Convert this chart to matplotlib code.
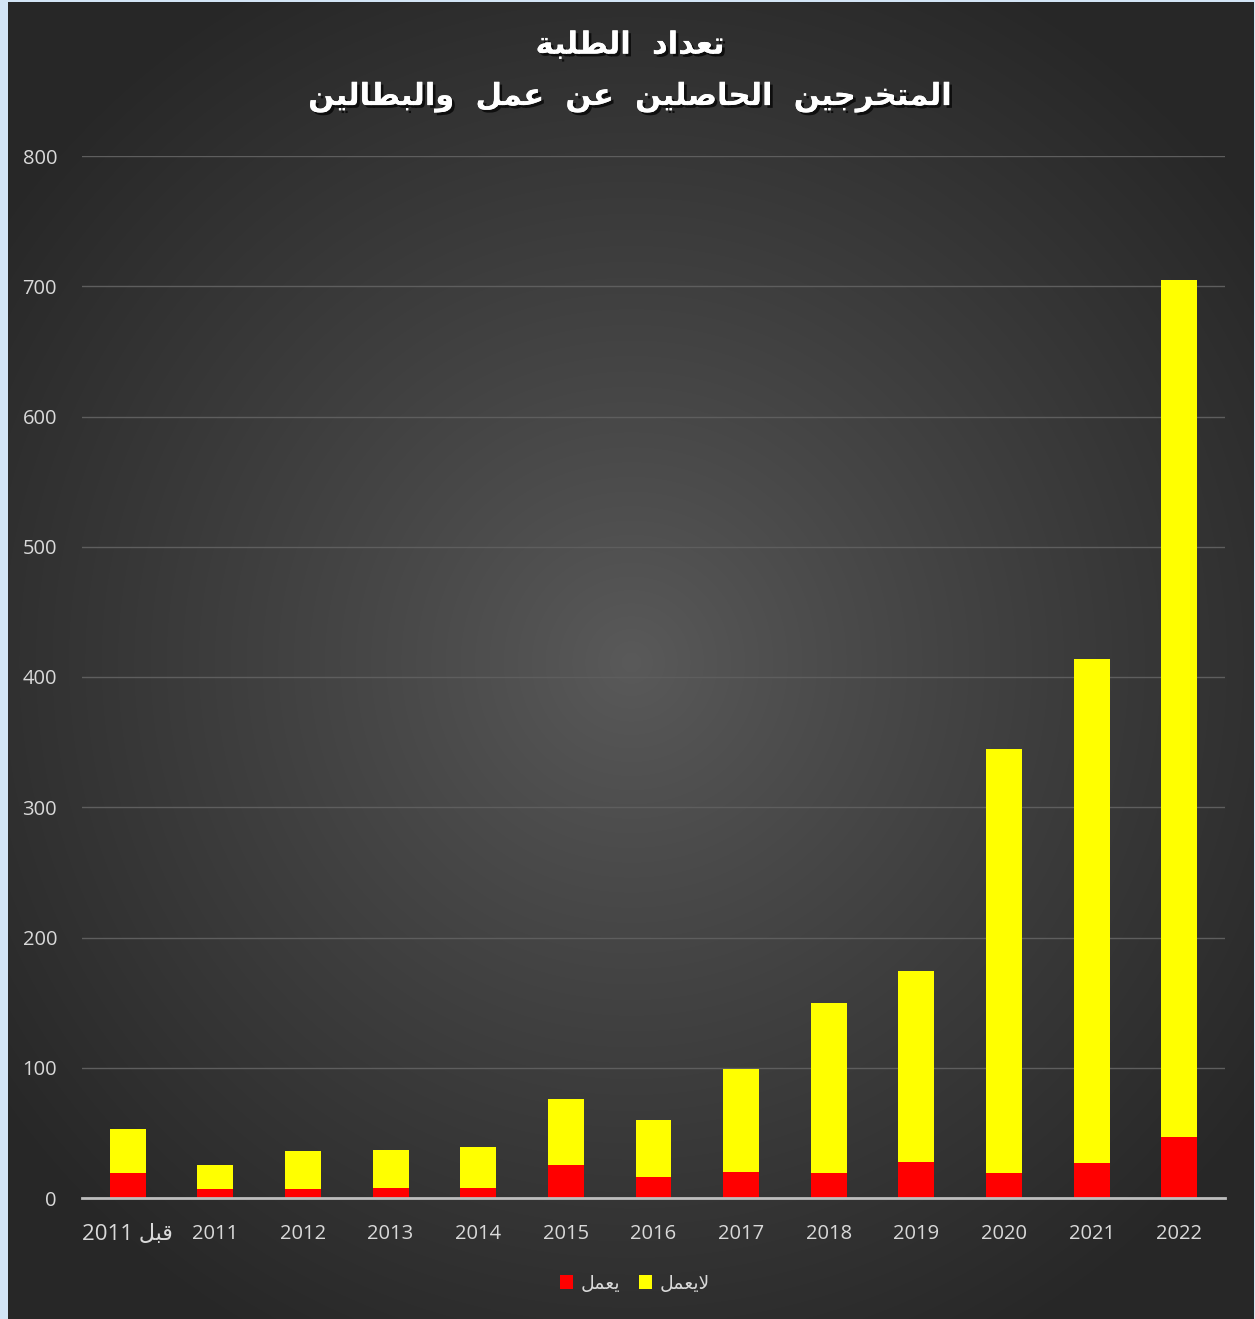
import numpy as np
import matplotlib.pyplot as plt
import matplotlib.patheffects as pe

# data
years = ["2011", "2012", "2013", "2014", "2015", "2016", "2017", "2018", "2019", "2020", "2021", "2022"]
working = [19, 7, 7, 8, 8, 25, 16, 20, 19, 28, 19, 27, 47]          # red, bottom
not_working = [34, 18, 29, 29, 31, 51, 44, 79, 131, 146, 326, 387, 658]  # yellow, on top

# --- tiny arabic shaper (matplotlib draws glyphs without joining / RTL) ---
FORMS = {
    'ا': (0xFE8D, 0xFE8E), 'د': (0xFEA9, 0xFEAA), 'ر': (0xFEAD, 0xFEAE),
    'و': (0xFEED, 0xFEEE), 'ة': (0xFE93, 0xFE94),
    'ب': (0xFE8F, 0xFE90, 0xFE91, 0xFE92), 'ت': (0xFE95, 0xFE96, 0xFE97, 0xFE98),
    'ج': (0xFE9D, 0xFE9E, 0xFE9F, 0xFEA0), 'ح': (0xFEA1, 0xFEA2, 0xFEA3, 0xFEA4),
    'خ': (0xFEA5, 0xFEA6, 0xFEA7, 0xFEA8), 'ص': (0xFEB9, 0xFEBA, 0xFEBB, 0xFEBC),
    'ط': (0xFEC1, 0xFEC2, 0xFEC3, 0xFEC4), 'ع': (0xFEC9, 0xFECA, 0xFECB, 0xFECC),
    'ق': (0xFED5, 0xFED6, 0xFED7, 0xFED8), 'ل': (0xFEDD, 0xFEDE, 0xFEDF, 0xFEE0),
    'م': (0xFEE1, 0xFEE2, 0xFEE3, 0xFEE4), 'ن': (0xFEE5, 0xFEE6, 0xFEE7, 0xFEE8),
    'ي': (0xFEF1, 0xFEF2, 0xFEF3, 0xFEF4),
}


def ar(text):
    # merge lam + alef into one ligature "letter"
    chars = []
    i = 0
    while i < len(text):
        if text[i] == 'ل' and i + 1 < len(text) and text[i + 1] == 'ا':
            chars.append('لا')
            i += 2
        else:
            chars.append(text[i])
            i += 1
    out = []
    for k, c in enumerate(chars):
        prev = chars[k - 1] if k > 0 else None
        nxt = chars[k + 1] if k + 1 < len(chars) else None
        join_prev = prev is not None and (prev == 'ل' or (prev in FORMS and len(FORMS[prev]) == 4))
        if prev == 'لا':
            join_prev = False
        if c == 'لا':
            out.append(chr(0xFEFC if join_prev else 0xFEFB))
            continue
        if c not in FORMS:
            out.append(c)
            continue
        f = FORMS[c]
        join_next = len(f) == 4 and nxt is not None and (nxt in FORMS or nxt == 'لا')
        if join_prev and join_next:
            out.append(chr(f[3]))
        elif join_prev:
            out.append(chr(f[1]))
        elif join_next:
            out.append(chr(f[2]))
        else:
            out.append(chr(f[0]))
    return ''.join(out)[::-1]


labels = ["2011 " + ar("قبل")] + years
title1 = ar("تعداد الطلبة").replace(" ", "  ")
title2 = "  ".join(ar(w) for w in reversed("المتخرجين الحاصلين عن عمل والبطالين".split()))

W, H = 1255, 1319
fig = plt.figure(figsize=(W / 100, H / 100), dpi=100, facecolor="#D3E5F6")

# radial gradient background
bg = fig.add_axes([8 / W, 0, 1246 / W, 1317 / H])
yy, xx = np.mgrid[0:1317, 0:1246]
r = np.sqrt(((xx - 623) / 780) ** 2 + ((yy - 660) / 780) ** 2)
r = np.clip(r, 0, 1)
lo = np.array([0x5A, 0x5A, 0x5A]) / 255
hi = np.array([0x27, 0x27, 0x27]) / 255
img = lo + (hi - lo) * r[..., None] ** 0.9
bg.imshow(img, aspect="auto", interpolation="bilinear")
bg.axis("off")

# plot area
ax = fig.add_axes([82 / W, (H - 1198) / H, (1225 - 82) / W, (1198 - 156) / H])
ax.set_facecolor("none")
x = np.arange(len(labels))
ax.bar(x, working, width=0.41, color="#FF0000", label=ar("يعمل"), zorder=3)
ax.bar(x, not_working, width=0.41, bottom=working, color="#FFFF00", label=ar("لايعمل"), zorder=3)

ax.set_xlim(-0.52, len(labels) - 0.48)
ax.set_ylim(0, 800)
ax.set_yticks(range(0, 801, 100))
ax.grid(axis="y", color="#5E5E5E", linewidth=1, zorder=0)
for s in ["top", "right", "left"]:
    ax.spines[s].set_visible(False)
ax.spines["bottom"].set_color("#BDBDBD")
ax.spines["bottom"].set_linewidth(2)
ax.spines["bottom"].set_zorder(4)
ax.tick_params(length=0, colors="#D9D9D9", labelsize=14.5)
ax.tick_params(axis="y", pad=18)
ax.tick_params(axis="x", pad=19)
ax.set_xticks(x)
ax.set_xticklabels(labels, family=["Open Sans", "DejaVu Sans"])
for t in ax.get_yticklabels():
    t.set_family("Open Sans")
ax.get_xticklabels()[0].set_fontsize(16)

leg = fig.legend(loc="center", bbox_to_anchor=(635 / W, (H - 1283) / H), ncol=2,
                 frameon=False, fontsize=13.5, handlelength=0.7, handleheight=0.7,
                 handletextpad=0.4, columnspacing=1.0, labelcolor="#D9D9D9")

shadow = [pe.withSimplePatchShadow(offset=(2, -2), shadow_rgbFace="black", alpha=0.7), pe.Normal()]
fig.text(630 / W, (H - 45) / H, title1, color="white", fontsize=22, fontweight="bold",
         ha="center", va="center", path_effects=shadow)
fig.text(630 / W, (H - 97) / H, title2, color="white", fontsize=22, fontweight="bold",
         ha="center", va="center", path_effects=shadow)

fig.savefig("out.png", dpi=100, facecolor=fig.get_facecolor())
